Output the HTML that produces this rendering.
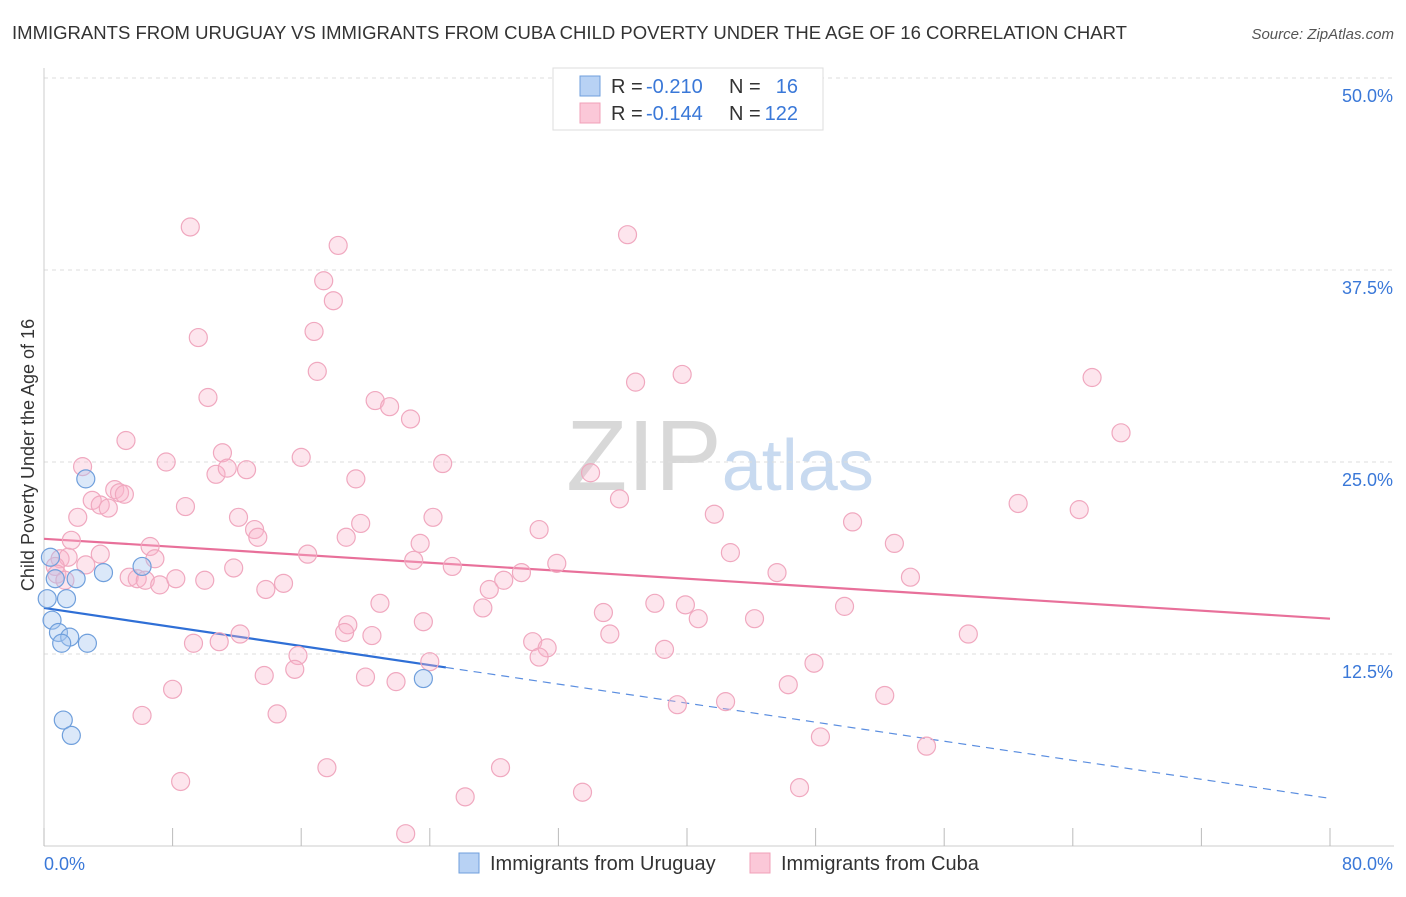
<!DOCTYPE html>
<html><head><meta charset="utf-8"><style>
body{margin:0;background:#fff;font-family:"Liberation Sans",sans-serif}
svg text{font-family:"Liberation Sans",sans-serif}
</style></head><body>
<svg id="chart" width="1406" height="892" xmlns="http://www.w3.org/2000/svg">
<text x="12" y="39" font-size="18" fill="#333" textLength="1115" lengthAdjust="spacingAndGlyphs">IMMIGRANTS FROM URUGUAY VS IMMIGRANTS FROM CUBA CHILD POVERTY UNDER THE AGE OF 16 CORRELATION CHART</text>
<text x="1394" y="39" font-size="15" fill="#555" text-anchor="end" font-style="italic">Source: ZipAtlas.com</text>
<text x="720" y="490" font-size="100" text-anchor="middle" fill="#ddd" font-family="Liberation Serif"><tspan fill="#d8d8d8">ZIP</tspan><tspan fill="#c8daf0" font-family="Liberation Sans" font-size="72">atlas</tspan></text>
<g id="grid"></g>
<g id="axes"></g>
<g id="trend"></g>
<g id="points"></g>
<text transform="translate(34,455) rotate(-90)" font-size="18" fill="#333" text-anchor="middle">Child Poverty Under the Age of 16</text>
<g>
<rect x="553" y="68" width="270" height="62" fill="#fff" stroke="#ddd"/>
<rect x="580" y="76" width="20" height="20" fill="#b8d2f4" stroke="#6f9fdc"/>
<rect x="580" y="103" width="20" height="20" fill="#fbc8d8" stroke="#f0a0b8"/>
<text x="611" y="93" font-size="20" fill="#333">R =</text>
<text x="646" y="93" font-size="20" fill="#3a78d8">-0.210</text>
<text x="729" y="93" font-size="20" fill="#333">N =</text>
<text x="798" y="93" font-size="20" fill="#3a78d8" text-anchor="end">16</text>
<text x="611" y="120" font-size="20" fill="#333">R =</text>
<text x="646" y="120" font-size="20" fill="#3a78d8">-0.144</text>
<text x="729" y="120" font-size="20" fill="#333">N =</text>
<text x="798" y="120" font-size="20" fill="#3a78d8" text-anchor="end">122</text>
</g>
<g>
<rect x="459" y="853" width="20" height="20" fill="#b8d2f4" stroke="#6f9fdc"/>
<text x="490" y="870" font-size="20" fill="#333">Immigrants from Uruguay</text>
<rect x="750" y="853" width="20" height="20" fill="#fbc8d8" stroke="#f0a0b8"/>
<text x="781" y="870" font-size="20" fill="#333">Immigrants from Cuba</text>
</g>
</svg>
<script>
const yTicks=[12.5,25,37.5,50];
const yTickLabels=["12.5%","25.0%","37.5%","50.0%"];
const xTicks=[0,8,16,24,32,40,48,56,64,72,80];
const blueX=[0.4,0.7,0.2,1.4,2.0,3.7,0.5,0.9,1.6,1.1,2.7,2.6,6.1,1.2,1.7,23.6];
const blueY=[18.8,17.4,16.1,16.1,17.4,17.8,14.7,13.9,13.6,13.2,13.2,23.9,18.2,8.2,7.2,10.9];
const pinkX=[9.1,18.3,36.3,17.4,18.0,9.6,16.8,17.0,36.8,39.7,65.2,10.2,20.6,21.5,22.8,67.0,5.1,2.4,7.6,11.1,16.0,24.8,10.7,11.4,12.6,19.4,34.0,3.0,3.5,4.0,4.4,4.7,5.0,8.8,35.8,60.6,64.4,2.1,12.1,13.1,13.3,19.7,24.2,41.7,50.3,30.8,1.7,18.8,23.4,52.9,1.0,1.5,3.5,6.6,6.9,16.4,42.7,0.7,2.6,0.8,1.3,5.3,5.8,6.3,7.2,8.2,10.0,11.8,13.8,14.9,23.0,25.4,31.9,29.7,28.6,27.7,45.6,53.9,20.9,27.3,34.8,38.0,39.9,49.8,40.7,44.2,23.6,18.9,18.7,20.4,12.2,35.2,9.3,10.9,30.4,31.3,38.6,57.5,15.8,15.6,30.8,47.9,24.0,13.7,20.0,21.9,8.0,52.3,46.3,42.4,39.4,6.1,14.5,48.3,54.9,8.5,17.6,28.4,26.2,33.5,47.0,22.5];
const pinkY=[40.3,39.1,39.8,36.8,35.5,33.1,33.5,30.9,30.2,30.7,30.5,29.2,29.0,28.6,27.8,26.9,26.4,24.7,25.0,25.6,25.3,24.9,24.2,24.6,24.5,23.9,24.3,22.5,22.2,22.0,23.2,23.0,22.9,22.1,22.6,22.3,21.9,21.4,21.4,20.6,20.1,21.0,21.4,21.6,21.1,20.6,19.9,20.1,19.7,19.7,18.7,18.8,19.0,19.5,18.7,19.0,19.1,18.2,18.3,17.7,17.3,17.5,17.4,17.3,17.0,17.4,17.3,18.1,16.7,17.1,18.6,18.2,18.4,17.8,17.3,16.7,17.8,17.5,15.8,15.5,15.2,15.8,15.7,15.6,14.8,14.8,14.6,14.4,13.9,13.7,13.8,13.8,13.2,13.3,13.3,12.9,12.8,13.8,12.4,11.5,12.3,11.9,12.0,11.1,11.0,10.7,10.2,9.8,10.5,9.4,9.2,8.5,8.6,7.1,6.5,4.2,5.1,5.1,3.2,3.5,3.8,0.8];
const blueTrend=[15.5,3.1];
const pinkTrend=[20.0,14.8];
const blueSolidEnd=25.0;
const NS="http://www.w3.org/2000/svg";
const X=v=>44+v/80*1286, Y=v=>846-v/12.5*192;
function mk(t,a,p){const e=document.createElementNS(NS,t);for(const k in a)e.setAttribute(k,a[k]);p.appendChild(e);return e;}
const grid=document.getElementById('grid'),axes=document.getElementById('axes'),tr=document.getElementById('trend'),pts=document.getElementById('points');
yTicks.forEach((t,i)=>{
 const l=mk('line',{x1:44,x2:1394,y1:Y(t),y2:Y(t),stroke:'#ddd','stroke-dasharray':'4,4'},grid);
 
 
 const tx=mk('text',{x:1393,y:Y(t)+24,'font-size':18,fill:'#3a78d8','text-anchor':'end'},axes);
 tx.textContent=yTickLabels[i];
 
 
});
const al=mk('line',{x1:44,x2:1394,y1:846,y2:846,stroke:'#ccc'},axes);


const yl=mk('line',{x1:44,x2:44,y1:68,y2:846,stroke:'#ccc'},axes);


xTicks.forEach(t=>{
 const l=mk('line',{x1:X(t),x2:X(t),y1:828,y2:846,stroke:'#bbb'},axes);
 
 
});
[["0.0%",44,"start"],["80.0%",1393,"end"]].forEach(a=>{
 const tx=mk('text',{x:a[1],y:870,'font-size':18,fill:'#3a78d8','text-anchor':a[2]},axes);
 tx.textContent=a[0];
 
 
});
const ty=(tt,x)=>tt[0]+(tt[1]-tt[0])*x/80;
pinkX.forEach((x,i)=>{
 const c=mk('circle',{cx:X(x),cy:Y(pinkY[i]),r:9,fill:'rgba(248,180,202,0.35)',stroke:'#f0a8bf','stroke-width':1.2},pts);
 
 
});
blueX.forEach((x,i)=>{
 const c=mk('circle',{cx:X(x),cy:Y(blueY[i]),r:9,fill:'rgba(165,198,240,0.4)',stroke:'#6f9fdc','stroke-width':1.2},pts);
 
 
});
const p=mk('line',{x1:X(0),y1:Y(ty(pinkTrend,0)),x2:X(80),y2:Y(ty(pinkTrend,80)),stroke:'#e8709a','stroke-width':2.2},tr);


const b=mk('line',{x1:X(0),y1:Y(ty(blueTrend,0)),x2:X(blueSolidEnd),y2:Y(ty(blueTrend,blueSolidEnd)),stroke:'#2f6fd6','stroke-width':2.2},tr);


const bd=mk('line',{x1:X(blueSolidEnd),y1:Y(ty(blueTrend,blueSolidEnd)),x2:X(80),y2:Y(ty(blueTrend,80)),stroke:'#5b8ee0','stroke-width':1.2,'stroke-dasharray':'8,6'},tr);


</script>
</body></html>
